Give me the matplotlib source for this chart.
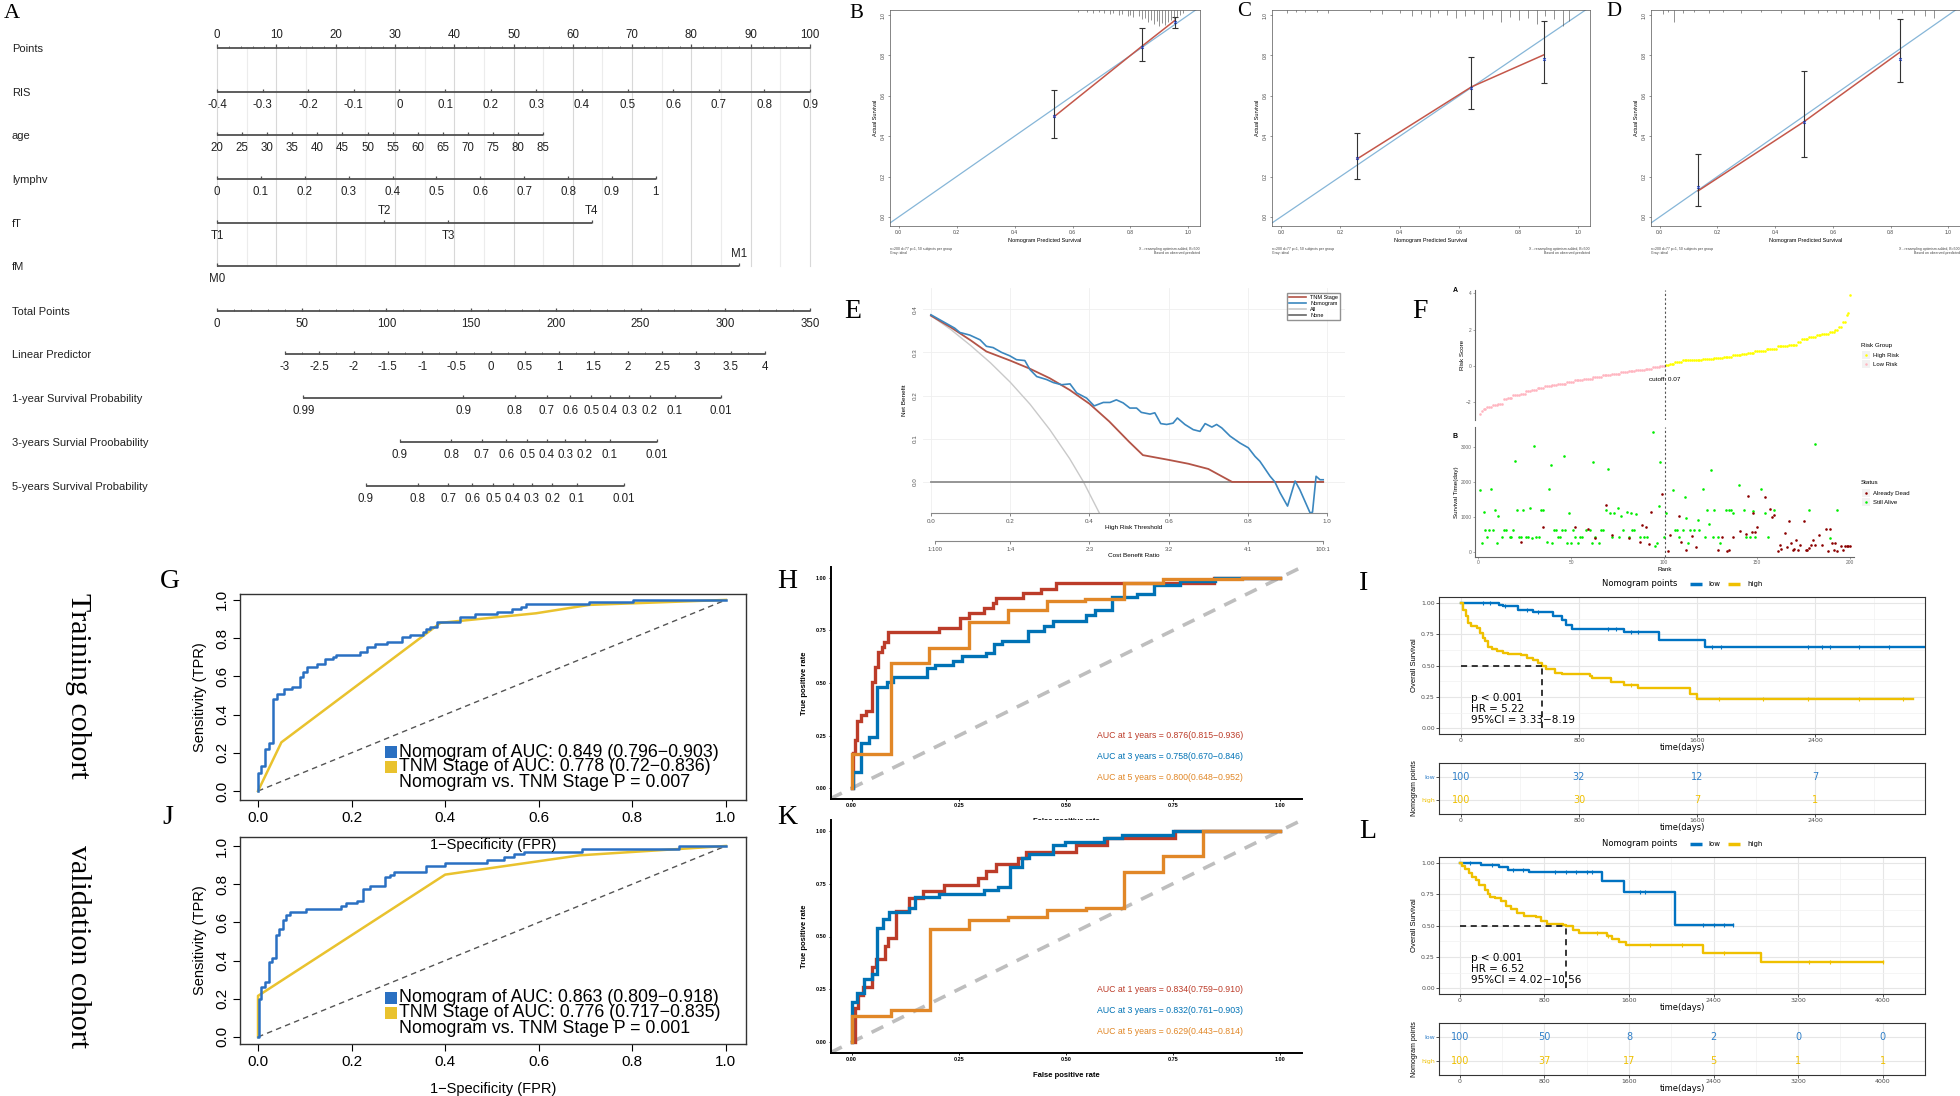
import numpy as np
import matplotlib.pyplot as plt
from matplotlib.patches import Rectangle
from matplotlib.lines import Line2D

plt.rcParams['font.family'] = ['Liberation Sans', 'DejaVu Sans']
NARROW = ['Liberation Sans Narrow', 'Liberation Sans', 'DejaVu Sans']
SERIF = ['Liberation Serif', 'DejaVu Serif']
DEJA = ['DejaVu Sans']

# ---------------- A: nomogram ----------------
points_ticks = list(range(0, 101, 10))
ris_values = [-0.4, -0.3, -0.2, -0.1, 0, 0.1, 0.2, 0.3, 0.4, 0.5, 0.6, 0.7, 0.8, 0.9]
ris_points = [0, 100]            # points at -0.4 and 0.9
age_values = list(range(20, 86, 5))
age_points = [0, 55.0]           # points at age 20 and 85
lymphv_values = [0, 0.1, 0.2, 0.3, 0.4, 0.5, 0.6, 0.7, 0.8, 0.9, 1]
lymphv_points = [0, 74.0]
ft_labels = ['T1', 'T2', 'T3', 'T4']
ft_points = [0, 28.2, 39.0, 63.2]
fm_labels = ['M0', 'M1']
fm_points = [0, 88.0]
total_ticks = [0, 50, 100, 150, 200, 250, 300, 350]
lp_values = [-3, -2.5, -2, -1.5, -1, -0.5, 0, 0.5, 1, 1.5, 2, 2.5, 3, 3.5, 4]
lp_total = [40.1, 323.4]         # total points at LP -3 and 4
surv1_labels = ['0.99', '0.9', '0.8', '0.7', '0.6', '0.5', '0.4', '0.3', '0.2', '0.1', '0.01']
surv1_total = [51.0, 145.3, 175.8, 194.7, 208.6, 221.0, 231.9, 243.4, 255.5, 270.1, 297.6]
surv3_labels = ['0.9', '0.8', '0.7', '0.6', '0.5', '0.4', '0.3', '0.2', '0.1', '0.01']
surv3_total = [107.8, 138.2, 156.2, 170.8, 183.2, 194.7, 205.5, 217.0, 231.9, 259.8]
surv5_labels = ['0.9', '0.8', '0.7', '0.6', '0.5', '0.4', '0.3', '0.2', '0.1', '0.01']
surv5_total = [87.9, 118.6, 136.6, 150.6, 163.0, 174.5, 185.7, 197.8, 212.4, 240.3]

# ---------------- B/C/D: calibration ----------------
b_pred = [0.536, 0.84, 0.952]
b_obs = [0.496, 0.846, 0.972]
b_lo = [0.39, 0.772, 0.937]
b_hi = [0.631, 0.937, 0.99]
b_corr = [0.50, 0.84, 0.965]
b_rug = [0.62, 0.65, 0.67, 0.69, 0.71, 0.73, 0.74, 0.76, 0.77, 0.79, 0.80, 0.81, 0.83, 0.84,
         0.85, 0.86, 0.87, 0.88, 0.89, 0.90, 0.91, 0.92, 0.93, 0.94, 0.95, 0.96, 0.97, 0.98]
b_rug_h = [2, 2, 3, 2, 3, 4, 3, 5, 4, 6, 5, 7, 6, 9, 8, 12, 10, 14, 11, 16, 13, 15, 12, 10, 9, 7, 5, 3]
c_pred = [0.256, 0.641, 0.885]
c_obs = [0.287, 0.644, 0.803]
c_lo = [0.189, 0.536, 0.664]
c_hi = [0.415, 0.792, 0.97]
c_corr = [0.29, 0.64, 0.78]
c_rug = [0.02, 0.05, 0.08, 0.12, 0.16, 0.30, 0.34, 0.40, 0.44, 0.47, 0.50, 0.53, 0.56, 0.59,
         0.62, 0.65, 0.68, 0.71, 0.74, 0.77, 0.80, 0.83, 0.86, 0.89, 0.92, 0.95, 0.97]
c_rug_h = [3, 2, 2, 2, 3, 2, 4, 3, 6, 4, 7, 3, 5, 8, 6, 4, 9, 5, 12, 7, 10, 8, 14, 6, 9, 16, 11]
d_pred = [0.133, 0.499, 0.831]
d_obs = [0.129, 0.471, 0.815]
d_lo = [0.053, 0.298, 0.669]
d_hi = [0.314, 0.724, 0.978]
d_corr = [0.15, 0.47, 0.78]
d_rug = [0.01, 0.03, 0.05, 0.08, 0.12, 0.17, 0.22, 0.28, 0.35, 0.42, 0.50, 0.55, 0.58, 0.61,
         0.64, 0.67, 0.70, 0.73, 0.76, 0.80, 0.84, 0.88, 0.92, 0.95]
d_rug_h = [4, 2, 12, 3, 2, 3, 2, 3, 2, 3, 4, 3, 2, 3, 4, 2, 5, 3, 9, 4, 3, 5, 6, 8]

# ---------------- E: decision curve ----------------
all_t = [0, 0.05, 0.1, 0.15, 0.2, 0.25, 0.3, 0.35, 0.385, 0.425]
all_nb = [0.385, 0.353, 0.316, 0.276, 0.231, 0.18, 0.121, 0.054, 0.0, -0.072]
none_t = [0, 0.99]
none_nb = [0, 0]
tnm_t = [0, 0.05, 0.1, 0.14, 0.2, 0.25, 0.3, 0.35, 0.4, 0.45, 0.5, 0.535, 0.6, 0.65, 0.7, 0.76, 0.99]
tnm_nb = [0.385, 0.358, 0.328, 0.302, 0.281, 0.262, 0.24, 0.213, 0.181, 0.14, 0.093, 0.062,
          0.051, 0.042, 0.03, 0.0, 0.0]
nomo_t = [0, 0.06, 0.073, 0.098, 0.124, 0.14, 0.157, 0.178, 0.199, 0.216, 0.237, 0.25, 0.267,
          0.292, 0.309, 0.33, 0.351, 0.368, 0.393, 0.412, 0.435, 0.452, 0.468, 0.485, 0.502,
          0.519, 0.531, 0.553, 0.565, 0.58, 0.595, 0.611, 0.622, 0.641, 0.662, 0.679, 0.692,
          0.709, 0.721, 0.734, 0.755, 0.78, 0.801, 0.818, 0.83, 0.839, 0.856, 0.868, 0.881,
          0.9, 0.919, 0.931, 0.944, 0.957, 0.963, 0.972, 0.982, 0.99]
nomo_nb = [0.387, 0.356, 0.346, 0.34, 0.329, 0.314, 0.311, 0.30, 0.292, 0.283, 0.281, 0.26,
           0.244, 0.237, 0.23, 0.225, 0.227, 0.206, 0.194, 0.176, 0.184, 0.184, 0.19, 0.183,
           0.171, 0.171, 0.161, 0.157, 0.16, 0.135, 0.133, 0.136, 0.148, 0.133, 0.121, 0.117,
           0.135, 0.127, 0.133, 0.125, 0.106, 0.09, 0.079, 0.059, 0.048, 0.036, 0.013, 0.0,
           -0.025, -0.056, 0.002, -0.018, -0.045, -0.072, -0.07, 0.013, 0.005, 0.005]

# ---------------- F: risk score / survival status ----------------
score_values = [-2.66, -2.45, -2.35, -2.26, -2.17, -2.07, -1.80, -1.74, -1.61, -1.52, -1.40, -1.30,
                -1.19, -1.12, -1.06, -0.97, -0.88, -0.79, -0.70, -0.61, -0.51, -0.42, -0.33,
                -0.28, -0.20, -0.15, -0.06, 0.00,
                0.08, 0.13, 0.22, 0.31, 0.35, 0.40, 0.46, 0.50, 0.59, 0.66, 0.72, 0.83, 0.95,
                1.08, 1.14, 1.32, 1.50, 1.60, 1.69, 1.78, 1.87, 1.98, 2.15, 2.42, 2.79, 2.92, 3.89]
score_counts = [1, 1, 2, 3, 3, 3, 2, 3, 4, 3, 3, 3, 4, 4, 3, 5, 4, 5, 5, 5, 5, 5, 4, 4, 5, 4, 4, 3,
                2, 3, 4, 6, 5, 6, 5, 5, 5, 3, 4, 6, 6, 6, 5, 2, 4, 4, 3, 4, 3, 2, 2, 2, 1, 1, 1]
alive_rank = [1, 2, 3, 4, 5, 6, 7, 8, 9, 10, 11, 13, 14, 15, 17, 18, 19, 20, 21, 22, 23, 24, 26, 27,
              28, 29, 30, 31, 33, 34, 35, 37, 38, 39, 40, 41, 42, 43, 44, 45, 46, 47, 48, 49, 50,
              51, 52, 54, 55, 56, 58, 60, 61, 62, 63, 65, 66, 67, 69, 70, 71, 72, 73, 75, 76, 77,
              78, 80, 81, 82, 83, 84, 85, 87, 89, 91, 94, 95, 96, 97, 98, 100, 101,
              105, 106, 107, 108, 110, 111, 112, 113, 114, 116, 118, 119, 121, 122, 123, 124,
              125, 126, 127, 129, 130, 133, 135, 136, 137, 140, 143, 144, 146, 148, 149, 152,
              154, 156, 159, 178, 181, 189, 193]
alive_time = [1780, 257, 1133, 638, 419, 638, 1810, 638, 1210, 257, 1029, 419, 638, 638, 419, 419,
              638, 2590, 1210, 419, 419, 1210, 419, 419, 1257, 400, 3038, 419, 419, 1210, 1210,
              276, 1810, 2495, 257, 638, 638, 419, 419, 638, 2733, 638, 257, 1114, 257, 638, 419,
              257, 419, 419, 638, 638, 257, 2571, 419, 257, 638, 638, 1210, 2371, 1114, 419,
              1114, 1257, 419, 1029, 638, 1133, 419, 1114, 638, 638, 1086, 419, 419, 419, 3419,
              181, 257, 1305, 2571, 419, 1114,
              1781, 638, 638, 419, 638, 1562, 962, 257, 638, 638, 905, 638, 1810, 419, 1210, 810,
              2352, 419, 1210, 419, 257, 1210, 1210, 1210, 1114, 1924, 1210, 419, 419, 1162, 419,
              1810, 1114, 419, 1210, 1210, 3076, 400, 1210]
dead_rank = [23, 35, 52, 59, 63, 69, 72, 81, 87, 88, 90, 92, 93, 99, 102, 103, 108, 109, 112, 115,
             117, 129, 131, 134, 135, 137, 141, 144, 145, 147, 148, 149, 150, 154, 157, 158, 159,
             161, 162, 163, 165, 166, 167, 168, 169, 170, 171, 172, 173, 175, 176, 177, 178, 179,
             180, 181, 183, 185, 187, 188, 189, 190, 191, 192, 193, 195, 196, 197, 198, 199, 200]
dead_time = [276, 714, 714, 657, 400, 1352, 495, 400, 276, 762, 714, 238, 1133, 1657, 19, 476,
             1019, 276, 67, 448, 133, 67, 419, 38, 67, 419, 590, 524, 1610, 562, 1114, 571, 705,
             1562, 1229, 1000, 1067, 19, 190, 86, 543, 143, 895, 257, 48, 86, 352, 67, 190, 895,
             67, 67, 114, 210, 352, 190, 495, 190, 657, 19, 657, 257, 67, 257, 19, 181, 48, 162,
             162, 162, 181]

# ---------------- G/J: ROC, nomogram vs TNM ----------------
g_nomo_fpr = [0, 0, 0.007, 0.016, 0.024, 0.032, 0.04, 0.055, 0.073, 0.089, 0.096, 0.104, 0.127,
              0.144, 0.16, 0.167, 0.219, 0.234, 0.25, 0.276, 0.308, 0.325, 0.352, 0.359, 0.367,
              0.382, 0.432, 0.464, 0.51, 0.542, 0.5625, 0.573, 0.708, 0.802, 1.0]
g_nomo_tpr = [0, 0.092, 0.133, 0.22, 0.25, 0.48, 0.51, 0.534, 0.546, 0.595, 0.625, 0.651, 0.665,
              0.69, 0.703, 0.714, 0.73, 0.756, 0.768, 0.782, 0.805, 0.818, 0.834, 0.848, 0.86,
              0.885, 0.91, 0.925, 0.937, 0.953, 0.965, 0.977, 0.988, 1.0, 1.0]
g_tnm_fpr = [0, 0.05, 0.39, 0.594, 0.708, 1.0]
g_tnm_tpr = [0, 0.255, 0.88, 0.93, 0.974, 1.0]
g_legend = ['Nomogram of AUC: 0.849 (0.796\u22120.903)', 'TNM Stage of AUC: 0.778 (0.72\u22120.836)',
            'Nomogram vs. TNM Stage P = 0.007']
j_nomo_fpr = [0, 0.003, 0.007, 0.016, 0.023, 0.029, 0.0375, 0.045, 0.053, 0.06, 0.068, 0.102,
              0.177, 0.1875, 0.211, 0.224, 0.24, 0.271, 0.283, 0.29, 0.36, 0.4, 0.49, 0.526,
              0.547, 0.568, 0.693, 0.9, 1.0]
j_nomo_tpr = [0, 0.2, 0.26, 0.29, 0.395, 0.414, 0.532, 0.564, 0.61, 0.64, 0.654, 0.668, 0.684,
              0.70, 0.714, 0.775, 0.79, 0.836, 0.85, 0.866, 0.895, 0.911, 0.925, 0.942, 0.956,
              0.97, 0.986, 1.0, 1.0]
j_tnm_fpr = [0, 0, 0.40, 0.6875, 1.0]
j_tnm_tpr = [0, 0.215, 0.85, 0.951, 1.0]
j_legend = ['Nomogram of AUC: 0.863 (0.809\u22120.918)', 'TNM Stage of AUC: 0.776 (0.717\u22120.835)',
            'Nomogram vs. TNM Stage P = 0.001']

# ---------------- H/K: time-dependent ROC ----------------
h1_fpr = [0, 0.004, 0.008, 0.013, 0.021, 0.033, 0.047, 0.054, 0.062, 0.070, 0.075, 0.084, 0.205,
          0.253, 0.274, 0.309, 0.330, 0.338, 0.400, 0.443, 0.478, 0.846, 1.0]
h1_tpr = [0, 0.166, 0.23, 0.32, 0.347, 0.367, 0.506, 0.574, 0.646, 0.669, 0.696, 0.741, 0.763,
          0.807, 0.834, 0.854, 0.881, 0.902, 0.926, 0.948, 0.973, 1.0, 1.0]
h3_fpr = [0, 0.004, 0.021, 0.04, 0.06, 0.082, 0.097, 0.177, 0.194, 0.236, 0.257, 0.313, 0.332,
          0.352, 0.412, 0.449, 0.47, 0.548, 0.568, 0.608, 0.665, 0.706, 0.766, 0.848, 1.0]
h3_tpr = [0, 0.079, 0.217, 0.242, 0.483, 0.505, 0.53, 0.57, 0.585, 0.606, 0.628, 0.644, 0.684,
          0.70, 0.747, 0.771, 0.796, 0.823, 0.847, 0.907, 0.921, 0.965, 0.986, 1.0, 1.0]
h5_fpr = [0, 0, 0.091, 0.181, 0.274, 0.365, 0.455, 0.544, 0.635, 0.726, 0.91, 1.0]
h5_tpr = [0, 0.163, 0.593, 0.668, 0.788, 0.847, 0.891, 0.897, 0.973, 0.992, 1.0, 1.0]
h_auc = ['AUC at 1 years = 0.876(0.815\u22120.936)', 'AUC at 3 years = 0.758(0.670\u22120.846)',
         'AUC at 5 years = 0.800(0.648\u22120.952)']
k1_fpr = [0, 0.008, 0.016, 0.026, 0.047, 0.058, 0.078, 0.086, 0.103, 0.135, 0.166, 0.216, 0.294,
          0.313, 0.338, 0.389, 0.408, 0.523, 0.595, 0.754, 1.0]
k1_tpr = [0, 0.16, 0.224, 0.259, 0.358, 0.393, 0.457, 0.492, 0.621, 0.681, 0.713, 0.744, 0.776,
          0.808, 0.842, 0.871, 0.902, 0.934, 0.965, 1.0, 1.0]
k3_fpr = [0, 0, 0.012, 0.03, 0.047, 0.06, 0.074, 0.088, 0.135, 0.148, 0.205, 0.309, 0.341, 0.369,
          0.397, 0.414, 0.47, 0.499, 0.59, 0.632, 0.751, 1.0]
k3_tpr = [0, 0.19, 0.232, 0.30, 0.322, 0.539, 0.582, 0.615, 0.634, 0.686, 0.702, 0.718, 0.732,
          0.831, 0.871, 0.89, 0.934, 0.946, 0.965, 0.981, 1.0, 1.0]
k5_fpr = [0, 0, 0.092, 0.183, 0.274, 0.365, 0.455, 0.546, 0.635, 0.727, 0.819, 1.0]
k5_tpr = [0, 0.125, 0.153, 0.535, 0.579, 0.59, 0.626, 0.634, 0.803, 0.882, 1.0, 1.0]
k_auc = ['AUC at 1 years = 0.834(0.759\u22120.910)', 'AUC at 3 years = 0.832(0.761\u22120.903)',
         'AUC at 5 years = 0.629(0.443\u22120.814)']

# ---------------- I/L: Kaplan-Meier ----------------
i_low_t = [0, 259, 284, 385, 486, 624, 687, 712, 750, 1102, 1341, 1656, 3146]
i_low_s = [1.0, 0.987, 0.973, 0.947, 0.926, 0.899, 0.867, 0.827, 0.795, 0.766, 0.707, 0.646, 0.646]
i_high_t = [0, 13, 33, 50, 70, 108, 128, 146, 164, 184, 209, 247, 284, 322, 410, 448, 486, 523,
            548, 574, 637, 687, 876, 888, 1014, 1102, 1203, 1555, 1600, 3064]
i_high_s = [1.0, 0.947, 0.894, 0.84, 0.814, 0.80, 0.76, 0.72, 0.694, 0.649, 0.633, 0.614, 0.601,
            0.596, 0.588, 0.561, 0.548, 0.521, 0.50, 0.473, 0.441, 0.434, 0.42, 0.40, 0.367,
            0.348, 0.322, 0.277, 0.234, 0.234]
i_low_cens = [150, 200, 300, 450, 520, 1000, 1050, 1150, 1200, 1700, 1760, 2350, 2450, 2500, 2700, 2900]
i_high_cens = [1150, 1750, 2050, 2350, 2700, 3000]
i_median = 548
i_stats = ['p < 0.001', 'HR = 5.22', '95%CI = 3.33\u22128.19']
i_times = [0, 800, 1600, 2400]
i_risk_low = [100, 32, 12, 7]
i_risk_high = [100, 30, 7, 1]

l_low_t = [0, 201, 369, 453, 654, 1341, 1552, 2038, 2581]
l_low_s = [1.0, 0.981, 0.968, 0.947, 0.928, 0.859, 0.769, 0.507, 0.507]
l_high_t = [0, 17, 50, 84, 117, 151, 184, 235, 268, 285, 335, 385, 436, 486, 536, 603, 721, 771,
            821, 972, 1006, 1073, 1123, 1391, 1441, 1508, 1575, 2296, 2849, 4006]
l_high_s = [1.0, 0.973, 0.952, 0.92, 0.889, 0.867, 0.828, 0.788, 0.756, 0.73, 0.721, 0.695,
            0.655, 0.634, 0.602, 0.581, 0.57, 0.536, 0.517, 0.509, 0.496, 0.469, 0.443, 0.416,
            0.39, 0.369, 0.345, 0.284, 0.21, 0.21]
l_low_cens = [100, 300, 500, 600, 900, 1000, 1100, 1200, 1250, 1700, 1750, 2300, 2400, 2500, 2581]
l_high_cens = [1300, 1400, 1800, 2100, 2500, 3300, 3500, 4006]
l_median = 1006
l_stats = ['p < 0.001', 'HR = 6.52', '95%CI = 4.02\u221210.56']
l_times = [0, 800, 1600, 2400, 3200, 4000]
l_risk_low = [100, 50, 8, 2, 0, 0]
l_risk_high = [100, 37, 17, 5, 1, 1]

BLUE = '#0073C2'
YEL = '#EFC000'
NEJM = ['#BC3C29', '#0072B5', '#E18727']

W, H = 1960, 1096
fig = plt.figure(figsize=(19.6, 10.96), dpi=100)
fig.patch.set_facecolor('white')


def px_axes(l, t, r, b):
    return fig.add_axes([l / W, 1 - b / H, (r - l) / W, (b - t) / H])


# ================= A =================
na = px_axes(0, 0, 820, 520)
na.set_xlim(-217 / 5.93, (820 - 217) / 5.93)
na.set_ylim(520, 0)
na.axis('off')
LC = '#505050'


def nomo_row(y, pos, labels, name, side='below', minor=None):
    na.plot([min(pos), max(pos)], [y, y], color=LC, lw=1.3, solid_capstyle='butt')
    na.vlines(pos, y - 3.5, y, color=LC, lw=0.9)
    if minor is not None:
        na.vlines(minor, y - 2, y, color=LC, lw=0.6)
    for p, s, sd in zip(pos, labels, side if isinstance(side, list) else [side] * len(pos)):
        ty = y + 13 if sd == 'below' else y - 12
        na.text(p, ty, s, ha='center', va='center', fontsize=8.3, family=NARROW, color='#222222')
    na.text((12 - 217) / 5.93, y + 1, name, ha='left', va='center', fontsize=8.0,
            family=NARROW, color='#222222')


for p in range(0, 101, 5):
    na.plot([p, p], [47, 266], color='#D8D8D8' if p % 10 == 0 else '#ECECEC', lw=0.8, zorder=0)

nomo_row(47.5, points_ticks, [str(v) for v in points_ticks], 'Points', side='above',
         minor=np.arange(0, 101, 2))
ris_pos = np.interp(ris_values, [ris_values[0], ris_values[-1]], ris_points)
nomo_row(92, ris_pos, [f'{v:g}' for v in ris_values], 'RIS')
age_pos = np.interp(age_values, [age_values[0], age_values[-1]], age_points)
nomo_row(135, age_pos, [str(v) for v in age_values], 'age')
ly_pos = np.interp(lymphv_values, [0, 1], lymphv_points)
nomo_row(179, ly_pos, [f'{v:g}' for v in lymphv_values], 'lymphv')
nomo_row(223, ft_points, ft_labels, 'fT', side=['below', 'above', 'below', 'above'])
nomo_row(266, fm_points, fm_labels, 'fM', side=['below', 'above'])
nomo_row(311, np.array(total_ticks) / 3.5, [str(v) for v in total_ticks], 'Total Points',
         minor=np.arange(0, 351, 10) / 3.5)
lp_pos = np.interp(lp_values, [lp_values[0], lp_values[-1]], lp_total) / 3.5
nomo_row(354, lp_pos, [f'{v:g}' for v in lp_values], 'Linear Predictor',
         minor=np.interp(np.arange(-3, 4.01, 0.25), [-3, 4], lp_total) / 3.5)
nomo_row(398, np.array(surv1_total) / 3.5, surv1_labels, '1-year Survival Probability')
nomo_row(442, np.array(surv3_total) / 3.5, surv3_labels, '3-years Survial Proobability')
nomo_row(486, np.array(surv5_total) / 3.5, surv5_labels, '5-years Survival Probability')


# ================= B, C, D =================
def calib_panel(l, r, pred, obs, lo, hi, corr, rug, rug_h):
    ax = px_axes(l, 10, r, 226)
    ax.set_xlim(-0.03, 1.04)
    ax.set_ylim(-0.045, 1.025)
    ax.plot([-0.03, 1.04], [-0.03, 1.04], color='#86B6D8', lw=0.9)
    ax.plot(pred, obs, color='#C4574A', lw=1.1)
    ax.errorbar(pred, obs, yerr=[np.subtract(obs, lo), np.subtract(hi, obs)], fmt='none',
                ecolor='#333333', elinewidth=0.8, capsize=2, capthick=0.8)
    ax.plot(pred, corr, 'x', color='#2244CC', ms=2, mew=0.6)
    ax.vlines(rug, 1.025 - np.array(rug_h) / 202, 1.025, color='#555555', lw=0.45)
    ticks = [0, 0.2, 0.4, 0.6, 0.8, 1.0]
    ax.set_xticks(ticks)
    ax.set_xticklabels([f'{v:.1f}' for v in ticks])
    ax.set_yticks(ticks)
    ax.set_yticklabels([f'{v:.1f}' for v in ticks], rotation=90, va='center')
    ax.tick_params(labelsize=3.6, length=1.5, width=0.4, pad=1.5, colors='#444444')
    for s in ax.spines.values():
        s.set_linewidth(0.5)
        s.set_color('#555555')
    ax.set_xlabel('Nomogram Predicted Survival', fontsize=4, labelpad=2)
    ax.set_ylabel('Actual Survival', fontsize=4, labelpad=2)
    ax.text(0.0, -0.095, 'n=200 d=77 p=1, 50 subjects per group\nGray: ideal',
            transform=ax.transAxes, fontsize=2.5, va='top', ha='left', color='#444444')
    ax.text(1.0, -0.095, 'X - resampling optimism added, B=500\nBased on observed-predicted',
            transform=ax.transAxes, fontsize=2.5, va='top', ha='right', color='#444444')


calib_panel(890, 1200, b_pred, b_obs, b_lo, b_hi, b_corr, b_rug, b_rug_h)
calib_panel(1272, 1590, c_pred, c_obs, c_lo, c_hi, c_corr, c_rug, c_rug_h)
calib_panel(1651, 1960, d_pred, d_obs, d_lo, d_hi, d_corr, d_rug, d_rug_h)

# ================= E =================
ea = px_axes(923, 288, 1345, 513)
ea.set_xlim(-0.02, 1.045)
ea.set_ylim(-0.072, 0.449)
ea.grid(color='#EFEFEF', lw=0.6)
ea.set_axisbelow(True)
ea.plot(all_t, all_nb, color='#C9C9C9', lw=1.0, label='All')
ea.plot(none_t, none_nb, color='#8E8E8E', lw=1.3, label='None')
ea.plot(tnm_t, tnm_nb, color='#B35447', lw=1.3, label='TNM Stage')
ea.plot(nomo_t, nomo_nb, color='#3B87BF', lw=1.2, label='Nomogram')
for s in ['top', 'right', 'left']:
    ea.spines[s].set_visible(False)
ea.spines['bottom'].set_bounds(0, 1)
ea.spines['bottom'].set_color('#888888')
ea.set_xticks([0, 0.2, 0.4, 0.6, 0.8, 1.0])
ea.set_xticklabels(['0.0', '0.2', '0.4', '0.6', '0.8', '1.0'])
ea.set_yticks([0, 0.1, 0.2, 0.3, 0.4])
ea.set_yticklabels(['0.0', '0.1', '0.2', '0.3', '0.4'], rotation=90, va='center')
ea.tick_params(axis='x', labelsize=4.5, length=2, width=0.5, colors='#555555', pad=2)
ea.tick_params(axis='y', labelsize=4.5, length=0, pad=4, colors='#555555')
ea.set_xlabel('High Risk Threshold', fontsize=4.6, labelpad=1)
ea.set_ylabel('Net Benefit', fontsize=4.6, labelpad=4)
hnd = [Line2D([], [], color=c, lw=1.2) for c in ['#B35447', '#3B87BF', '#C9C9C9', '#666666']]
ea.legend(hnd, ['TNM Stage', 'Nomogram', 'All', 'None'], loc='upper right',
          bbox_to_anchor=(0.995, 0.99), fontsize=4, frameon=True, fancybox=False,
          edgecolor='#777777', handlelength=3, borderpad=0.4, labelspacing=0.15)
e2 = px_axes(923, 540, 1345, 541)
e2.set_xlim(-0.02, 1.045)
e2.patch.set_alpha(0)
for s in ['top', 'right', 'left']:
    e2.spines[s].set_visible(False)
e2.spines['bottom'].set_bounds(0.01, 0.99)
e2.spines['bottom'].set_color('#888888')
e2.set_yticks([])
e2.set_xticks([0.01, 0.2, 0.4, 0.6, 0.8, 0.99])
e2.set_xticklabels(['1:100', '1:4', '2:3', '3:2', '4:1', '100:1'])
e2.tick_params(axis='x', labelsize=4.2, length=2, width=0.5, colors='#555555', pad=2)
e2.set_xlabel('Cost Benefit Ratio', fontsize=4.6, labelpad=1)

# ================= F =================
rank = np.arange(1, 201)
score = np.repeat(score_values, score_counts)
fa = px_axes(1475, 290, 1854, 420)
fa.set_xlim(-1.6, 202)
fa.set_ylim(-2.97, 4.18)
low = rank <= 100
fa.scatter(rank[low], score[low], s=3.5, color='#FFB6C1', lw=0)
fa.scatter(rank[~low], score[~low], s=3.5, color='#FFFF00', lw=0)
fa.axvline(100.5, color='#555555', lw=0.8, ls=(0, (2, 2)))
fa.text(100.5, -0.75, 'cutoff: 0.07', ha='center', va='center', fontsize=4.6)
for s in ['top', 'right', 'bottom']:
    fa.spines[s].set_visible(False)
fa.spines['left'].set_color('#666666')
fa.set_xticks([])
fa.set_yticks([-2, 0, 2, 4])
fa.tick_params(labelsize=3.5, length=1.5, width=0.4, colors='#666666', pad=1)
fa.set_ylabel('Risk Score', fontsize=4.5, labelpad=1)

fb = px_axes(1475, 427, 1854, 557)
fb.set_xlim(-1.6, 202)
fb.set_ylim(-143, 3571)
fb.scatter(alive_rank, alive_time, s=3.5, color='#00EE00', lw=0)
fb.scatter(dead_rank, dead_time, s=3.5, color='#8B0000', lw=0)
fb.axvline(100.5, color='#555555', lw=0.8, ls=(0, (2, 2)))
for s in ['top', 'right']:
    fb.spines[s].set_visible(False)
fb.spines['left'].set_color('#666666')
fb.spines['bottom'].set_color('#666666')
fb.set_xticks([0, 50, 100, 150, 200])
fb.set_yticks([0, 1000, 2000, 3000])
fb.tick_params(labelsize=3.5, length=1.5, width=0.4, colors='#666666', pad=1)
fb.set_ylabel('Survival Time(day)', fontsize=4.5, labelpad=1)
fb.set_xlabel('Rank', fontsize=4.5, labelpad=1)


# ================= G, J =================
def roc_panel(t, b, ylim, nf, nt, tf, tt, legend):
    ax = px_axes(240, t, 746, b)
    ax.set_xlim(-0.0385, 1.043)
    ax.set_ylim(*ylim)
    ax.plot([0, 1], [0, 1], color='#555555', lw=1.0, ls=(0, (4, 3)))
    ax.plot(tf, tt, color='#E9C22E', lw=1.8)
    ax.plot(nf, nt, color='#2A70C2', lw=1.8, drawstyle='steps-post')
    ticks = [0, 0.2, 0.4, 0.6, 0.8, 1.0]
    ax.set_xticks(ticks)
    ax.set_xticklabels([f'{v:.1f}' for v in ticks])
    ax.set_yticks(ticks)
    ax.set_yticklabels([f'{v:.1f}' for v in ticks], rotation=90, va='center')
    ax.tick_params(labelsize=11, length=5, width=0.8, pad=3)
    for s in ax.spines.values():
        s.set_linewidth(1.0)
        s.set_color('#333333')
    ax.set_ylabel('Sensitivity (TPR)', fontsize=10.5, labelpad=6)
    ys = [0.204, 0.126, 0.042]
    ax.add_patch(Rectangle((0.272, ys[0] - 0.032), 0.025, 0.064, color='#2A70C2', lw=0))
    ax.add_patch(Rectangle((0.272, ys[1] - 0.032), 0.025, 0.064, color='#E9C22E', lw=0))
    for y, s in zip(ys, legend):
        ax.text(0.302, y, s, fontsize=12.8, va='center', ha='left')
    return ax


roc_panel(594, 800, (-0.047, 1.031), g_nomo_fpr, g_nomo_tpr, g_tnm_fpr, g_tnm_tpr, g_legend)
roc_panel(837, 1044, (-0.037, 1.047), j_nomo_fpr, j_nomo_tpr, j_tnm_fpr, j_tnm_tpr, j_legend)


# ================= H, K =================
def troc_panel(t, b, curves, aucs):
    ax = px_axes(831, t, 1302, b)
    ax.set_xlim(-0.048, 1.051)
    ax.set_ylim(-0.051, 1.051)
    ax.plot([-0.05, 1.05], [-0.05, 1.05], color='#BEBEBE', lw=2.6, dashes=(3.6, 2.8))
    for (fx, fy), c in zip(curves, NEJM):
        ax.plot(fx, fy, color=c, lw=2.4, drawstyle='steps-post', solid_joinstyle='miter')
    for s in ['top', 'right']:
        ax.spines[s].set_visible(False)
    for s in ['left', 'bottom']:
        ax.spines[s].set_linewidth(1.4)
        ax.spines[s].set_color('black')
    ticks = [0, 0.25, 0.5, 0.75, 1.0]
    ax.set_xticks(ticks)
    ax.set_xticklabels([f'{v:.2f}' for v in ticks], fontweight='bold')
    ax.set_yticks(ticks)
    ax.set_yticklabels([f'{v:.2f}' for v in ticks], fontweight='bold')
    ax.tick_params(labelsize=4, length=1.5, width=0.6, pad=1.5)
    ax.set_xlabel('False positive rate', fontsize=5.5, fontweight='bold', labelpad=7)
    ax.set_ylabel('True positive rate', fontsize=5.5, fontweight='bold', labelpad=6)
    for y, s, c in zip([0.25, 0.15, 0.05], aucs, NEJM):
        ax.text(0.573, y, s, color=c, fontsize=6.3, va='center', ha='left')
    return ax


troc_panel(567, 799, [(h1_fpr, h1_tpr), (h3_fpr, h3_tpr), (h5_fpr, h5_tpr)], h_auc)
troc_panel(820, 1053, [(k1_fpr, k1_tpr), (k3_fpr, k3_tpr), (k5_fpr, k5_tpr)], k_auc)


# ================= I, L =================
def bw_style(ax, xticks):
    ax.set_xticks(xticks)
    step = xticks[1] - xticks[0]
    ax.set_xticks([v + step / 2 for v in xticks], minor=True)
    ax.grid(which='major', color='#E6E6E6', lw=0.8)
    ax.grid(which='minor', color='#F2F2F2', lw=0.5)
    ax.set_axisbelow(True)
    for s in ax.spines.values():
        s.set_color('#333333')
        s.set_linewidth(0.8)
    ax.tick_params(which='major', labelsize=4.5, length=2, width=0.6, colors='#333333',
                   labelcolor='#4D4D4D', pad=1)
    ax.tick_params(which='minor', length=0)
    for lab in ax.get_xticklabels() + ax.get_yticklabels():
        lab.set_family(DEJA)


def km_panel(t, b, xlim, xticks, lt, ls, ht, hs, lc, hc, median, stats):
    ax = px_axes(1439, t, 1925, b)
    ax.set_xlim(*xlim)
    ax.set_ylim(-0.045, 1.048)
    ax.set_yticks([0, 0.25, 0.5, 0.75, 1.0])
    ax.set_yticks([0.125, 0.375, 0.625, 0.875], minor=True)
    ax.set_yticklabels(['0.00', '0.25', '0.50', '0.75', '1.00'])
    bw_style(ax, xticks)
    ax.step(lt, ls, where='post', color=BLUE, lw=1.7)
    ax.step(ht, hs, where='post', color=YEL, lw=1.7)
    for tt, ss, cc, col in [(lt, ls, lc, BLUE), (ht, hs, hc, YEL)]:
        yy = np.array(ss)[np.searchsorted(tt, cc, side='right') - 1]
        ax.plot(cc, yy, '|', color=col, ms=3, mew=0.8)
    ax.plot([0, median], [0.5, 0.5], color='black', lw=1.1, dashes=(4, 3))
    ax.plot([median, median], [0, 0.5], color='black', lw=1.1, dashes=(4, 3))
    for y, s in zip([0.26, 0.18, 0.105], stats):
        ax.text(0.066, y, s, transform=ax.transAxes, fontsize=7.5, family=DEJA, va='center')
    ax.set_xlabel('time(days)', fontsize=6, family=DEJA, labelpad=0)
    ax.set_ylabel('Overall Survival', fontsize=5.5, family=NARROW, labelpad=2)


def risk_table(t, b, xlim, xticks, low_n, high_n):
    ax = px_axes(1439, t, 1925, b)
    ax.set_xlim(*xlim)
    ax.set_ylim(0.4, 2.6)
    ax.set_yticks([1, 2])
    ax.set_yticklabels(['high', 'low'])
    bw_style(ax, xticks)
    ax.grid(which='minor', axis='y', visible=False)
    for x, n in zip(xticks, low_n):
        ax.text(x, 2, str(n), color='#2F7FC8', ha='center', va='center', fontsize=7, family=DEJA)
    for x, n in zip(xticks, high_n):
        ax.text(x, 1, str(n), color='#EFC000', ha='center', va='center', fontsize=7, family=DEJA)
    ticklabs = ax.get_yticklabels()
    ticklabs[0].set_color(YEL)
    ticklabs[1].set_color('#2F7FC8')
    ax.set_xlabel('time(days)', fontsize=6, family=DEJA, labelpad=0)
    ax.set_ylabel('Nomogram points', fontsize=5, family=NARROW, labelpad=2)


km_panel(597, 734, (-149, 3146), i_times, i_low_t, i_low_s, i_high_t, i_high_s,
         i_low_cens, i_high_cens, i_median, i_stats)
risk_table(763, 814, (-149, 3146), i_times, i_risk_low, i_risk_high)
km_panel(857, 994, (-198, 4180), l_times, l_low_t, l_low_s, l_high_t, l_high_s,
         l_low_cens, l_high_cens, l_median, l_stats)
risk_table(1023, 1075, (-198, 4180), l_times, l_risk_low, l_risk_high)

# ================= overlay: panel letters and free text =================
ov = px_axes(0, 0, W, H)
ov.set_xlim(0, W)
ov.set_ylim(H, 0)
ov.axis('off')
ov.set_zorder(20)
ov.patch.set_alpha(0)

letters = [('A', 12, 14, 16), ('B', 856, 14, 15), ('C', 1244, 12, 15), ('D', 1614, 12, 15),
           ('E', 853, 312, 20), ('F', 1420, 312, 20), ('G', 170, 582, 20), ('J', 168, 817, 20),
           ('H', 787, 582, 20), ('K', 787, 817, 20), ('I', 1364, 583, 20), ('L', 1368, 832, 20)]
for s, x, y, fs in letters:
    ov.text(x, y, s, ha='center', va='center', fontsize=fs, family=SERIF)

ov.text(78, 686, 'Training cohort', rotation=-90, ha='center', va='center', fontsize=21.5, family=SERIF)
ov.text(78, 947, 'validation cohort', rotation=-90, ha='center', va='center', fontsize=21.5, family=SERIF)
ov.text(493, 845, '1\u2212Specificity (FPR)', ha='center', va='center', fontsize=10.5)
ov.text(493, 1089, '1\u2212Specificity (FPR)', ha='center', va='center', fontsize=10.5)

# F small letters and legends
ov.text(1455, 291, 'A', fontsize=5, weight='bold', ha='center', va='center')
ov.text(1455, 437, 'B', fontsize=5, weight='bold', ha='center', va='center')
ov.text(1861, 346, 'Risk Group', fontsize=4.5, ha='left', va='center')
for y, lab, col in [(355, 'High Risk', '#FFFF00'), (364, 'Low Risk', '#FFB6C1')]:
    ov.add_patch(Rectangle((1862, y - 4), 8, 8, color='#F2F2F2', lw=0))
    ov.plot(1866, y, 'o', color=col, ms=1.8, mew=0)
    ov.text(1873, y, lab, fontsize=4.3, ha='left', va='center')
ov.text(1861, 483, 'Status', fontsize=4.5, ha='left', va='center')
for y, lab, col in [(493, 'Already Dead', '#8B0000'), (502, 'Still Alive', '#00EE00')]:
    ov.add_patch(Rectangle((1862, y - 4), 8, 8, color='#F2F2F2', lw=0))
    ov.plot(1866, y, 'o', color=col, ms=1.8, mew=0)
    ov.text(1873, y, lab, fontsize=4.3, ha='left', va='center')

# KM legends
for y in [584, 844]:
    ov.text(1602, y, 'Nomogram points', fontsize=6, family=DEJA, ha='left', va='center')
    ov.plot([1690, 1702], [y, y], color=BLUE, lw=2.5, solid_capstyle='butt')
    ov.text(1708, y, 'low', fontsize=5, family=DEJA, ha='left', va='center')
    ov.plot([1728, 1740], [y, y], color=YEL, lw=2.5, solid_capstyle='butt')
    ov.text(1747, y, 'high', fontsize=5, family=DEJA, ha='left', va='center')

fig.savefig('out.png', dpi=100, facecolor='white')
